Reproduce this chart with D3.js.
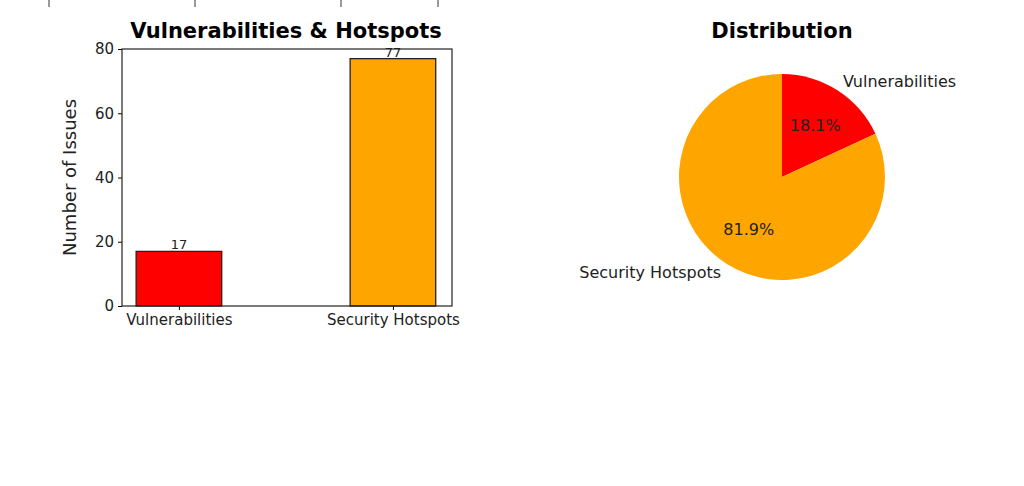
<!DOCTYPE html>
<html><head><meta charset="utf-8">
<script src="https://cdn.jsdelivr.net/npm/d3@7"></script>
<style>body{margin:0;background:#fff}text{font-family:"DejaVu Sans",sans-serif}</style>
</head><body>
<svg id="chart" width="1024" height="486"></svg>
<script>
const categories = ['Vulnerabilities', 'Security Hotspots']
const counts = [17, 77]
const colors = ['red', 'orange']
const yTicks = [0, 20, 40, 60, 80]

const svg = d3.select('#chart')

// stray ticks of an axis cut off above
svg.selectAll('line.stray').data([49, 195, 341, 438]).join('line')
  .attr('x1', d => d).attr('x2', d => d).attr('y1', 0).attr('y2', 7)
  .attr('stroke', '#333')

// bar chart
const plotL = 122, plotR = 452, plotT = 49, plotB = 306
const x = d3.scaleLinear().domain([-0.266, 1.276]).range([plotL, plotR])
const y = d3.scaleLinear().domain([0, 80]).range([plotB, plotT])
const bw = x(0.4) - x(0)

const bar = svg.append('g')
bar.append('g').attr('transform', `translate(${plotL},0)`)
  .call(d3.axisLeft(y).tickValues(yTicks).tickSize(4).tickPadding(4))
  .call(g => g.select('.domain').remove())
  .selectAll('text').attr('font-size', 15).attr('fill', '#222')
bar.append('g').attr('transform', `translate(0,${plotB})`)
  .call(d3.axisBottom(x).tickValues([0, 1]).tickFormat(i => categories[i]).tickSize(4).tickPadding(4))
  .call(g => g.select('.domain').remove())
  .selectAll('text').attr('font-size', 15).attr('fill', '#222')

bar.selectAll('rect.bar').data(counts).join('rect')
  .attr('x', (d, i) => x(i) - bw / 2).attr('width', bw)
  .attr('y', d => y(d)).attr('height', d => y(0) - y(d))
  .attr('fill', (d, i) => colors[i]).attr('stroke', '#222').attr('stroke-width', 1.3)
bar.selectAll('text.val').data(counts).join('text')
  .attr('x', (d, i) => x(i)).attr('y', d => y(d) - 2)
  .attr('text-anchor', 'middle').attr('font-size', 13).attr('fill', '#222').text(d => d)
bar.append('rect').attr('x', plotL).attr('y', plotT).attr('width', plotR - plotL).attr('height', plotB - plotT)
  .attr('fill', 'none').attr('stroke', '#222').attr('stroke-width', 1.2)
bar.append('text').attr('x', 286).attr('y', 38).attr('text-anchor', 'middle')
  .attr('font-size', 21).attr('font-weight', 'bold').text('Vulnerabilities & Hotspots')
bar.append('text').attr('transform', `translate(76,${(plotT + plotB) / 2}) rotate(-90)`)
  .attr('text-anchor', 'middle').attr('font-size', 18).attr('fill', '#222').text('Number of Issues')

// pie chart
const cx = 782, cy = 177, r = 103
const total = d3.sum(counts)
const pie = d3.pie().sort(null)(counts)
const arc = d3.arc().innerRadius(0).outerRadius(r)
const pg = svg.append('g').attr('transform', `translate(${cx},${cy})`)
pg.selectAll('path').data(pie).join('path').attr('d', arc).attr('fill', (d, i) => colors[i])
pg.selectAll('text.pct').data(pie).join('text')
  .attr('transform', d => `translate(${d3.arc().innerRadius(r * 0.6).outerRadius(r * 0.6).centroid(d)})`)
  .attr('text-anchor', 'middle').attr('dy', '0.35em').attr('font-size', 16).attr('fill', '#222')
  .text(d => (d.value / total * 100).toFixed(1) + '%')
pg.selectAll('text.lab').data(pie).join('text')
  .each(function (d, i) {
    const a = (d.startAngle + d.endAngle) / 2
    const px = Math.sin(a) * r * 1.1, py = -Math.cos(a) * r * 1.1
    d3.select(this).attr('x', px).attr('y', py).attr('dy', '0.35em')
      .attr('text-anchor', px > 0 ? 'start' : 'end')
  })
  .attr('font-size', 16).attr('fill', '#222').text((d, i) => categories[i])
svg.append('text').attr('x', cx).attr('y', 38).attr('text-anchor', 'middle')
  .attr('font-size', 21).attr('font-weight', 'bold').text('Distribution')
</script>
</body></html>
